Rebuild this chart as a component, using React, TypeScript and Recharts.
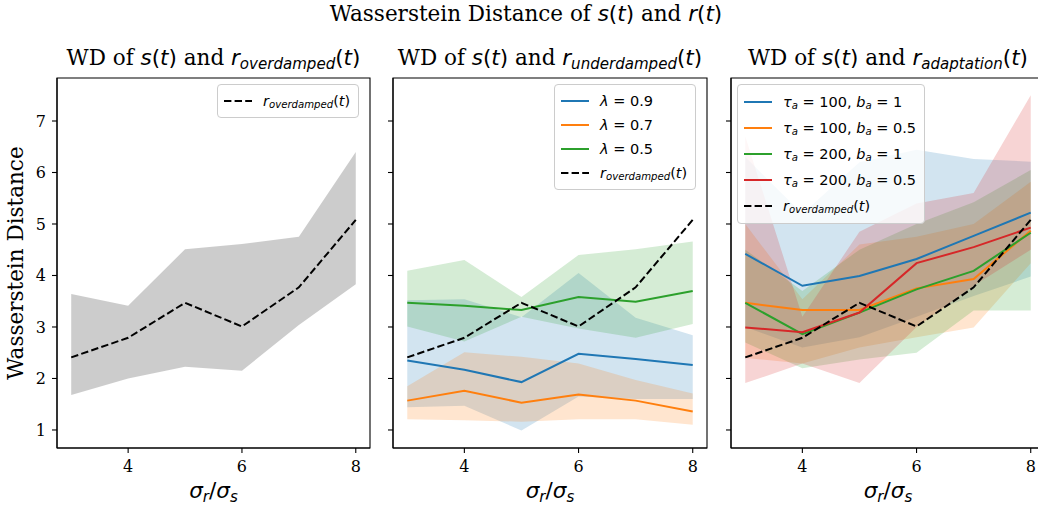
import React from 'react';
import { ComposedChart, Area, Line, XAxis, YAxis, ReferenceArea } from 'recharts';

// sigma_r / sigma_s
const sigmaRatio = [3, 4, 5, 6, 7, 8];
const xTicks = [4, 6, 8];
const yTicks = [1, 2, 3, 4, 5, 6, 7];

// overdamped reference
const overdampedMean = [2.41, 2.79, 3.47, 3.01, 3.77, 5.08];
const overdampedLow = [1.68, 2.0, 2.23, 2.15, 3.04, 3.83];
const overdampedHigh = [3.64, 3.41, 4.51, 4.61, 4.75, 6.4];

// underdamped
const lambda09Mean = [2.35, 2.17, 1.93, 2.48, 2.38, 2.26];
const lambda09Low = [1.44, 1.47, 0.99, 1.65, 1.6, 1.6];
const lambda09High = [3.52, 3.54, 3.19, 4.05, 3.18, 2.84];
const lambda07Mean = [1.57, 1.76, 1.53, 1.69, 1.57, 1.36];
const lambda07Low = [1.21, 1.19, 1.16, 1.21, 1.21, 1.1];
const lambda07High = [1.85, 2.51, 2.42, 2.29, 1.97, 1.71];
const lambda05Mean = [3.47, 3.41, 3.33, 3.58, 3.49, 3.7];
const lambda05Low = [3.01, 2.72, 3.2, 2.97, 2.79, 3.06];
const lambda05High = [4.09, 4.3, 3.58, 4.4, 4.51, 4.66];

// adaptation
const t100b1Mean = [4.42, 3.8, 3.99, 4.32, 4.77, 5.22];
const t100b1Low = [3.0, 2.6, 2.8, 3.2, 3.6, 3.98];
const t100b1High = [6.3, 5.2, 6.2, 6.44, 6.26, 6.21];
const t100b05Mean = [3.47, 3.33, 3.33, 3.75, 3.93, 4.87];
const t100b05Low = [2.4, 2.29, 2.6, 2.8, 2.99, 4.24];
const t100b05High = [5.0, 3.54, 4.6, 4.75, 5.0, 5.82];
const t200b1Mean = [3.47, 2.86, 3.28, 3.73, 4.09, 4.83];
const t200b1Low = [2.7, 2.2, 2.37, 2.5, 3.32, 3.32];
const t200b1High = [4.5, 3.7, 4.5, 5.0, 5.42, 6.05];
const t200b05Mean = [2.99, 2.9, 3.28, 4.24, 4.55, 4.93];
const t200b05Low = [1.91, 2.29, 1.91, 3.0, 3.8, 4.5];
const t200b05High = [6.7, 3.2, 4.85, 5.4, 5.6, 7.5];

const BLUE = '#1f77b4';
const ORANGE = '#ff7f0e';
const GREEN = '#2ca02c';
const RED = '#d62728';

const serif = '"DejaVu Serif", serif';
const sans = '"DejaVu Sans", sans-serif';

const PLOT_TOP = 78;
const PLOT_BOTTOM = 448;
const X_DOMAIN: [number, number] = [2.75, 8.25];
const Y_DOMAIN: [number, number] = [0.65, 7.835];

type Series = {
  key: string;
  color: string;
  mean: number[];
  low?: number[];
  high?: number[];
  bandColor?: string;
  bandOpacity?: number;
  dashed?: boolean;
};

const I = ({ children }: { children: React.ReactNode }) => (
  <span style={{ fontFamily: sans, fontStyle: 'italic' }}>{children}</span>
);
const U = ({ children }: { children: React.ReactNode }) => (
  <span style={{ fontFamily: sans, fontStyle: 'normal' }}>{children}</span>
);
const Sub = ({ children }: { children: React.ReactNode }) => (
  <span style={{ fontSize: '0.7em', position: 'relative', top: '0.25em' }}>{children}</span>
);

const St = () => (
  <>
    <I>s</I>
    <U>(</U>
    <I>t</I>
    <U>)</U>
  </>
);
const Rsub = ({ name }: { name: string }) => (
  <>
    <I>r</I>
    <Sub>
      <I>{name}</I>
    </Sub>
    <U>(</U>
    <I>t</I>
    <U>)</U>
  </>
);
const TauLabel = ({ tau, b }: { tau: string; b: string }) => (
  <>
    <I>τ</I>
    <Sub>
      <I>a</I>
    </Sub>
    <U>{` = ${tau}, `}</U>
    <I>b</I>
    <Sub>
      <I>a</I>
    </Sub>
    <U>{` = ${b}`}</U>
  </>
);
const LambdaLabel = ({ v }: { v: string }) => (
  <>
    <I>λ</I>
    <U>{` = ${v}`}</U>
  </>
);

const overdampedLine: Series = { key: 'od', color: '#000', mean: overdampedMean, dashed: true };

const panel1Series: Series[] = [
  { ...overdampedLine, low: overdampedLow, high: overdampedHigh, bandColor: 'gray', bandOpacity: 0.4 },
];
const panel2Series: Series[] = [
  { key: 'l09', color: BLUE, mean: lambda09Mean, low: lambda09Low, high: lambda09High },
  { key: 'l07', color: ORANGE, mean: lambda07Mean, low: lambda07Low, high: lambda07High },
  { key: 'l05', color: GREEN, mean: lambda05Mean, low: lambda05Low, high: lambda05High },
  overdampedLine,
];
const panel3Series: Series[] = [
  { key: 'a1', color: BLUE, mean: t100b1Mean, low: t100b1Low, high: t100b1High },
  { key: 'a2', color: ORANGE, mean: t100b05Mean, low: t100b05Low, high: t100b05High },
  { key: 'a3', color: GREEN, mean: t200b1Mean, low: t200b1Low, high: t200b1High },
  { key: 'a4', color: RED, mean: t200b05Mean, low: t200b05Low, high: t200b05High },
  overdampedLine,
];

function buildRows(series: Series[]) {
  return sigmaRatio.map((x, i) => {
    const row: Record<string, any> = { x };
    series.forEach((s) => {
      row[s.key] = s.mean[i];
      if (s.low && s.high) row[s.key + '_band'] = [s.low[i], s.high[i]];
    });
    return row;
  });
}

const tickStyle = { fill: '#000', fontSize: 16, fontFamily: serif };

function Panel({ left, right, series, showYLabels }: { left: number; right: number; series: Series[]; showYLabels: boolean }) {
  const yw = showYLabels ? 57 : 10;
  const data = buildRows(series);
  return (
    <div style={{ position: 'absolute', left: left - yw, top: 0 }}>
      <ComposedChart
        width={right - left + yw + 10}
        height={508}
        data={data}
        margin={{ top: PLOT_TOP, right: 10, bottom: 508 - PLOT_BOTTOM - 30, left: 0 }}
      >
        <XAxis
          type="number"
          dataKey="x"
          domain={X_DOMAIN}
          ticks={xTicks}
          interval={0}
          allowDataOverflow
          height={30}
          tickSize={5}
          tickMargin={8}
          tick={tickStyle}
          axisLine={{ stroke: '#000', strokeWidth: 1.1 }}
          tickLine={{ stroke: '#000', strokeWidth: 1.1 }}
        />
        <YAxis
          type="number"
          domain={Y_DOMAIN}
          ticks={yTicks}
          interval={0}
          allowDataOverflow
          width={yw}
          tickSize={5}
          tickMargin={6}
          tick={tickStyle}
          tickFormatter={showYLabels ? undefined : () => ''}
          axisLine={{ stroke: '#000', strokeWidth: 1.1 }}
          tickLine={{ stroke: '#000', strokeWidth: 1.1 }}
        />
        {series
          .filter((s) => s.low && s.high)
          .map((s) => (
            <Area
              key={s.key + '_band'}
              type="linear"
              dataKey={s.key + '_band'}
              stroke="none"
              fill={s.bandColor ?? s.color}
              fillOpacity={s.bandOpacity ?? 0.2}
              activeDot={false}
              dot={false}
              isAnimationActive={false}
            />
          ))}
        {series.map((s) => (
          <Line
            key={s.key}
            type="linear"
            dataKey={s.key}
            stroke={s.color}
            strokeWidth={2}
            strokeDasharray={s.dashed ? '7.4 3.2' : undefined}
            dot={false}
            activeDot={false}
            isAnimationActive={false}
          />
        ))}
        <ReferenceArea
          x1={X_DOMAIN[0]}
          x2={X_DOMAIN[1]}
          y1={Y_DOMAIN[0]}
          y2={Y_DOMAIN[1]}
          fill="none"
          stroke="#000"
          strokeWidth={1.1}
        />
      </ComposedChart>
    </div>
  );
}

type LegendEntry = { color: string; dashed?: boolean; label: React.ReactNode };

function LegendBox({ left, top, rowH, entries }: { left: number; top: number; rowH: number; entries: LegendEntry[] }) {
  return (
    <div
      style={{
        position: 'absolute',
        left,
        top,
        background: 'rgba(255,255,255,0.8)',
        border: '1px solid #cccccc',
        borderRadius: 4,
        padding: '4px 8px 4px 6px',
        fontSize: 14.5,
        whiteSpace: 'nowrap',
      }}
    >
      {entries.map((e, i) => (
        <div key={i} style={{ display: 'flex', alignItems: 'center', height: rowH }}>
          <svg width={28} height={10} style={{ marginRight: 11, flex: 'none' }}>
            <line
              x1={0}
              y1={5}
              x2={28}
              y2={5}
              stroke={e.color}
              strokeWidth={2}
              strokeDasharray={e.dashed ? '7.4 3.2' : undefined}
            />
          </svg>
          <span style={{ lineHeight: 1 }}>{e.label}</span>
        </div>
      ))}
    </div>
  );
}

const odEntry: LegendEntry = { color: '#000', dashed: true, label: <Rsub name="overdamped" /> };

const panels = [
  { left: 57, right: 370 },
  { left: 393, right: 707 },
  { left: 731, right: 1045 },
];

function Title({ cx, top, size, children }: { cx: number; top: number; size: number; children: React.ReactNode }) {
  return (
    <div
      style={{
        position: 'absolute',
        left: cx,
        top,
        transform: 'translateX(-50%)',
        fontFamily: serif,
        fontSize: size,
        lineHeight: 1,
        whiteSpace: 'nowrap',
        color: '#000',
      }}
    >
      {children}
    </div>
  );
}

export default function App() {
  const centers = panels.map((p) => (p.left + p.right) / 2);
  return (
    <div style={{ position: 'absolute', left: 0, top: 0, width: 1038, height: 508, overflow: 'hidden', background: '#fff' }}>
      <Panel left={panels[0].left} right={panels[0].right} series={panel1Series} showYLabels />
      <Panel left={panels[1].left} right={panels[1].right} series={panel2Series} showYLabels={false} />
      <Panel left={panels[2].left} right={panels[2].right} series={panel3Series} showYLabels={false} />

      <Title cx={526} top={3} size={21.5}>
        Wasserstein Distance of <St /> and <I>r</I>
        <U>(</U>
        <I>t</I>
        <U>)</U>
      </Title>
      <Title cx={centers[0]} top={47} size={21.5}>
        WD of <St /> and <Rsub name="overdamped" />
      </Title>
      <Title cx={centers[1]} top={47} size={21.5}>
        WD of <St /> and <Rsub name="underdamped" />
      </Title>
      <Title cx={centers[2]} top={47} size={21.5}>
        WD of <St /> and <Rsub name="adaptation" />
      </Title>

      {centers.map((c, i) => (
        <Title key={i} cx={c} top={480} size={21.5}>
          <I>σ</I>
          <Sub>
            <I>r</I>
          </Sub>
          <U>/</U>
          <I>σ</I>
          <Sub>
            <I>s</I>
          </Sub>
        </Title>
      ))}

      <div
        style={{
          position: 'absolute',
          left: 16,
          top: (PLOT_TOP + PLOT_BOTTOM) / 2,
          transform: 'translate(-50%, -50%) rotate(-90deg)',
          fontFamily: serif,
          fontSize: 21.5,
          lineHeight: 1,
          whiteSpace: 'nowrap',
        }}
      >
        Wasserstein Distance
      </div>

      <LegendBox left={217} top={84} rowH={24} entries={[odEntry]} />
      <LegendBox
        left={554}
        top={84}
        rowH={24}
        entries={[
          { color: BLUE, label: <LambdaLabel v="0.9" /> },
          { color: ORANGE, label: <LambdaLabel v="0.7" /> },
          { color: GREEN, label: <LambdaLabel v="0.5" /> },
          odEntry,
        ]}
      />
      <LegendBox
        left={737}
        top={84}
        rowH={26}
        entries={[
          { color: BLUE, label: <TauLabel tau="100" b="1" /> },
          { color: ORANGE, label: <TauLabel tau="100" b="0.5" /> },
          { color: GREEN, label: <TauLabel tau="200" b="1" /> },
          { color: RED, label: <TauLabel tau="200" b="0.5" /> },
          odEntry,
        ]}
      />
    </div>
  );
}
